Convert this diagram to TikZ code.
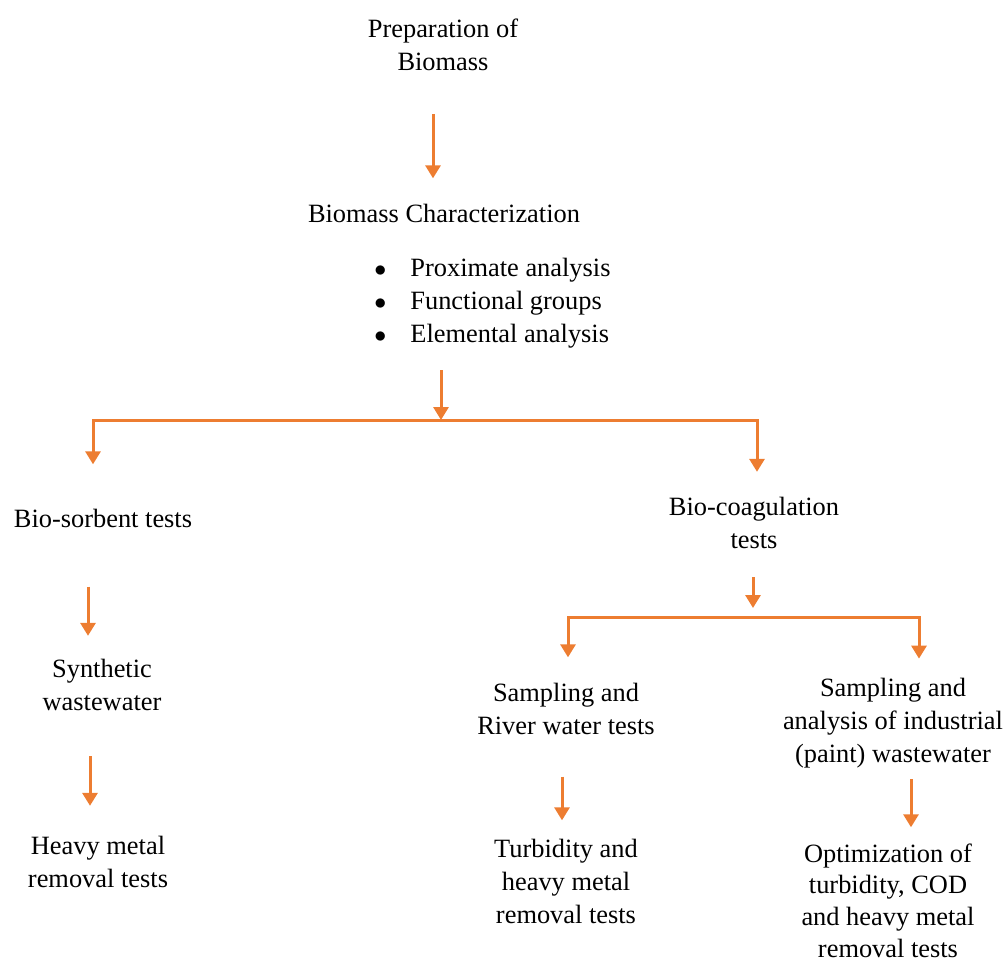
\documentclass[tikz,border=0pt]{standalone}
\usepackage{fontspec}
\setmainfont{Liberation Serif}
\usetikzlibrary{arrows.meta}
\definecolor{wordorange}{RGB}{237,125,49}
\newcommand{\blt}{\makebox[18pt][l]{$\bullet$}}
\tikzset{
  lbl/.style={align=center,inner sep=0pt,font=\fontsize{13.2}{16.5}\selectfont},
  arr/.style={draw=wordorange,line width=1.5pt,-{Triangle[width=7.5pt,length=6.5pt]}}
}
\begin{document}
\begin{tikzpicture}[x=0.5pt,y=-0.5pt]
\useasboundingbox (0,0) rectangle (1008,960);
% texts
\node[lbl](prep) at (443,44.5){Preparation of\\Biomass};
\node[lbl](char) at (444,213){Biomass Characterization};
\node[lbl,align=left,anchor=west](list) at (374,303){\blt Proximate analysis\\\blt Functional groups\\\blt Elemental analysis};
\node[lbl](sorb) at (103,518){Bio-sorbent tests};
\node[lbl](coag) at (754,523){Bio-coagulation\\tests};
\node[lbl](synth) at (102,685){Synthetic\\wastewater};
\node[lbl](heavy) at (98,862){Heavy metal\\removal tests};
\node[lbl](river) at (566,708.5){Sampling and\\River water tests};
\node[lbl](paint) at (893,723){Sampling and\\analysis of industrial\\(paint) wastewater};
\node[lbl](turb) at (566,881){Turbidity and\\heavy metal\\removal tests};
\node[lbl,font=\fontsize{13.2}{15.8}\selectfont](optim) at (888,900.5){Optimization of\\turbidity, COD\\and heavy metal\\removal tests};
% straight arrows
\foreach \a/\b/\dx/\s/\t in {prep/char/-10/21.5/12.5,sorb/synth/-15/29.5/11.5,synth/heavy/-12/22.5/15,river/turb/-4/21/9,paint/optim/18/5.5/8}
 {\draw[arr,shorten <=\s pt,shorten >=\t pt]([shift={(\dx,0)}]\a.south)--([shift={(\dx,0)}]\a.south |- \b.north);}
% forks
\coordinate(fork1) at (441,420);
\draw[arr,shorten <=11pt](list.south -| fork1)--(fork1);
\draw[arr,shorten >=22pt](fork1)-|([shift={(-10,0)}]sorb.north);
\draw[arr,shorten >=12.5pt](fork1)-|([shift={(3,0)}]coag.north);
\coordinate(fork2) at (753,617);
\draw[arr,shorten <=14pt,shorten >=4.5pt](coag.south -| fork2)--(fork2);
\draw[arr,shorten >=12.5pt](fork2)-|([shift={(2,0)}]river.north);
\draw[arr,shorten >=9.5pt](fork2)-|([shift={(26,0)}]paint.north);
\end{tikzpicture}
\end{document}
